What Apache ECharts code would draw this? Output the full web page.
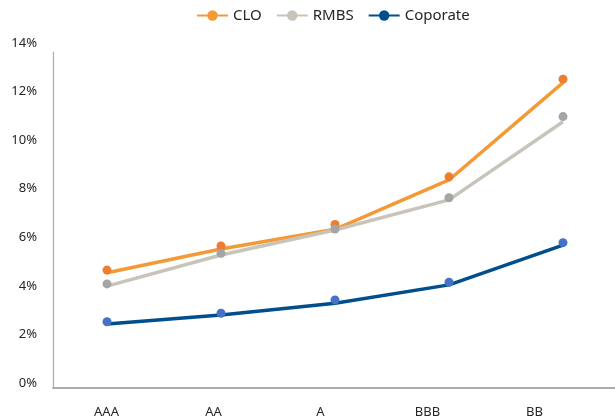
<!DOCTYPE html>
<html>
<head>
<meta charset="utf-8">
<script src="https://cdn.jsdelivr.net/npm/echarts@6/dist/echarts.min.js"></script>
<style>
  html, body { margin: 0; padding: 0; background: #ffffff; }
  #chart { width: 615px; height: 419px; }
</style>
</head>
<body>
<div id="chart"></div>
<script>
// Rating buckets along the horizontal axis
const categories = ['AAA', 'AA', 'A', 'BBB', 'BB'];

// Yield (%) per rating, point markers
const cloPoints = [4.65, 5.64, 6.53, 8.49, 12.51];
const rmbsPoints = [4.08, 5.34, 6.34, 7.63, 10.97];
const corpPoints = [2.52, 2.87, 3.42, 4.15, 5.78];

// Yield (%) per rating, connecting trend lines
const cloLine = [4.54, 5.52, 6.33, 8.36, 12.37];
const rmbsLine = [3.99, 5.27, 6.30, 7.54, 10.76];
const corpLine = [2.43, 2.80, 3.28, 4.04, 5.68];

// Vertical axis range and step (%)
const yMin = 0;
const yMax = 14;
const yStep = 2;

const FONT = '"Noto Sans", "Open Sans", sans-serif';
const AXIS_GRAY = '#A9ADB1';

const chart = echarts.init(document.getElementById('chart'), null, { renderer: 'canvas' });

const valueAxisBase = { type: 'value', min: yMin, max: yMax, interval: yStep, splitLine: { show: false } };

function lineSeries(name, data, color) {
  return {
    name: name,
    type: 'line',
    xAxisIndex: 2,
    yAxisIndex: 2,
    data: data,
    symbol: 'circle',
    symbolSize: 9,
    showSymbol: false,
    itemStyle: { color: color },
    lineStyle: { color: color, width: 3.5 },
    z: 2,
    silent: true
  };
}

function pointSeries(name, data, color) {
  return {
    name: name,
    type: 'scatter',
    xAxisIndex: 2,
    yAxisIndex: 2,
    data: data,
    symbol: 'circle',
    symbolSize: 9,
    itemStyle: { color: color, opacity: 1 },
    z: 3,
    silent: true
  };
}

chart.setOption({
  animation: false,
  backgroundColor: '#ffffff',
  textStyle: { fontFamily: FONT },
  legend: {
    data: ['CLO', 'RMBS', 'Coporate'],
    left: 191,
    top: 3,
    itemWidth: 31,
    itemHeight: 13,
    itemGap: 14,
    textStyle: { fontFamily: FONT, fontSize: 15, color: '#262626' }
  },
  grid: [
    // tick labels
    { left: 53, right: 27, top: 43, bottom: 36 },
    // axis lines
    { left: 53, right: 0, top: 52, bottom: 31 },
    // plotted series
    { left: 107, right: 52, top: 43, bottom: 36 }
  ],
  xAxis: [
    {
      type: 'category', gridIndex: 0, data: categories, boundaryGap: true,
      axisLine: { show: false }, axisTick: { show: false },
      axisLabel: { margin: 23, fontFamily: FONT, fontSize: 13, color: '#262626' }
    },
    {
      type: 'category', gridIndex: 1, data: categories,
      axisLine: { show: true, lineStyle: { color: AXIS_GRAY, width: 2 } },
      axisTick: { show: false }, axisLabel: { show: false }
    },
    {
      type: 'category', gridIndex: 2, data: categories, boundaryGap: false, show: false
    }
  ],
  yAxis: [
    Object.assign({}, valueAxisBase, {
      gridIndex: 0,
      axisLine: { show: false }, axisTick: { show: false },
      axisLabel: {
        margin: 16, fontFamily: FONT, fontSize: 13, color: '#262626',
        formatter: '{value}%'
      }
    }),
    Object.assign({}, valueAxisBase, {
      gridIndex: 1,
      axisLine: { show: true, lineStyle: { color: AXIS_GRAY, width: 1.2 } },
      axisTick: { show: false }, axisLabel: { show: false }
    }),
    Object.assign({}, valueAxisBase, { gridIndex: 2, show: false })
  ],
  series: [
    lineSeries('CLO', cloLine, '#F39A37'),
    lineSeries('RMBS', rmbsLine, '#C9C4BA'),
    lineSeries('Coporate', corpLine, '#004E8C'),
    pointSeries('CLO points', cloPoints, '#ED7D31'),
    pointSeries('RMBS points', rmbsPoints, '#A5A5A5'),
    pointSeries('Coporate points', corpPoints, '#4472C4')
  ]
});
</script>
</body>
</html>
